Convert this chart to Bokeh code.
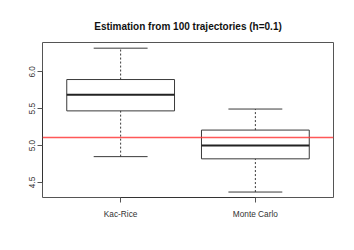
from bokeh.plotting import figure
from bokeh.models import Range1d, FixedTicker, Span, LinearAxis, PrintfTickFormatter
from bokeh.embed import file_html
from bokeh.resources import INLINE

categories = ["Kac-Rice", "Monte Carlo"]
lower_whisker = [4.85, 4.37]
q1 = [5.47, 4.82]
median = [5.69, 5.00]
q3 = [5.895, 5.21]
upper_whisker = [6.32, 5.495]
reference_value = 5.11
y_ticks = [4.5, 5.0, 5.5, 6.0]

xs = [i + 1 for i in range(len(categories))]
box_half = 0.4
cap_half = 0.2

p = figure(frame_width=291, frame_height=155, output_backend="svg", toolbar_location=None,
           x_range=Range1d(0.42, 2.58), y_range=Range1d(4.296, 6.397),
           x_axis_location=None, y_axis_location=None,
           min_border_left=42, min_border_right=21, min_border_top=42, min_border_bottom=53,
           title="Estimation from 100 trajectories (h=0.1)")
p.grid.visible = False
p.outline_line_color = "#555555"
p.outline_line_width = 1
p.background_fill_color = "white"
p.border_fill_color = "white"

p.title.align = "center"
p.title.text_font = "Liberation Sans"
p.title.text_font_style = "bold"
p.title.text_font_size = "10px"
p.title.text_color = "#111111"
p.title.standoff = 21

font = "Liberation Sans"
xaxis = LinearAxis(ticker=FixedTicker(ticks=xs),
                   major_label_overrides={x: c for x, c in zip(xs, categories)})
xaxis.bounds = (xs[0], xs[-1])
yaxis = LinearAxis(ticker=FixedTicker(ticks=y_ticks), formatter=PrintfTickFormatter(format="%.1f"))
yaxis.bounds = (y_ticks[0], y_ticks[-1])
yaxis.major_label_orientation = "vertical"
for ax in (xaxis, yaxis):
    ax.minor_tick_line_color = None
    ax.major_tick_in = 0
    ax.major_tick_out = 5
    ax.major_tick_line_color = "#555555"
    ax.axis_line_color = "#333333"
    ax.major_label_text_font = font
    ax.major_label_text_font_size = "8.3px"
    ax.major_label_text_color = "#333333"
xaxis.major_label_standoff = 6
yaxis.major_label_standoff = 2
p.add_layout(xaxis, "below")
p.add_layout(yaxis, "left")

line_col = "#3a3a3a"
# whiskers
p.segment(x0=xs, y0=q3, x1=xs, y1=upper_whisker, line_color=line_col, line_dash="2 2", line_width=1)
p.segment(x0=xs, y0=lower_whisker, x1=xs, y1=q1, line_color=line_col, line_dash="2 2", line_width=1)
# caps
p.segment(x0=[x - cap_half for x in xs], y0=upper_whisker, x1=[x + cap_half for x in xs], y1=upper_whisker,
          line_color=line_col, line_width=1)
p.segment(x0=[x - cap_half for x in xs], y0=lower_whisker, x1=[x + cap_half for x in xs], y1=lower_whisker,
          line_color=line_col, line_width=1)
# boxes
p.quad(left=[x - box_half for x in xs], right=[x + box_half for x in xs], bottom=q1, top=q3,
       fill_color=None, line_color=line_col, line_width=1)
# medians
p.segment(x0=[x - box_half for x in xs], y0=median, x1=[x + box_half for x in xs], y1=median,
          line_color="#222222", line_width=2)

p.add_layout(Span(location=reference_value, dimension="width", line_color="#ff3b3b",
                  line_width=1.5, line_alpha=0.85))

open("out.html", "w").write(file_html(p, INLINE))
